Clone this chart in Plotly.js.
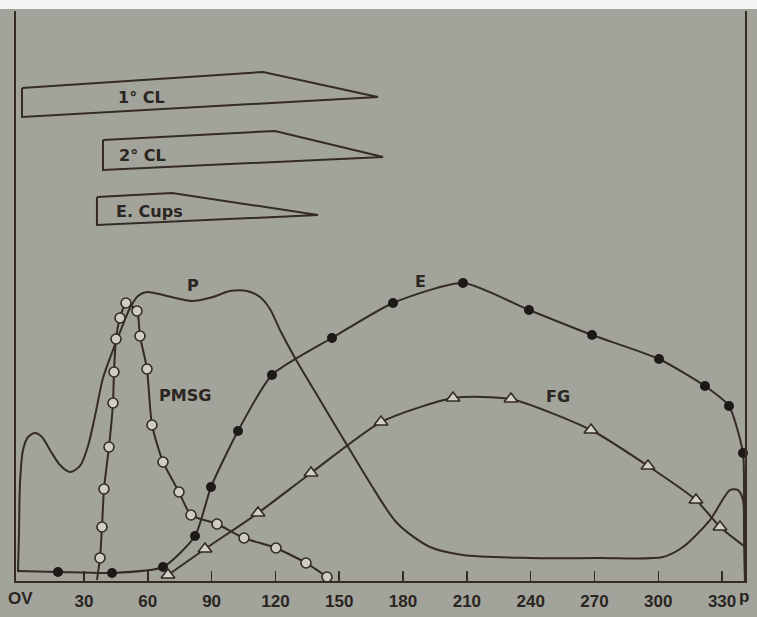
<!DOCTYPE html>
<html><head><meta charset="utf-8">
<script src="https://cdn.plot.ly/plotly-3.0.1.min.js"></script>
<style>html,body{margin:0;padding:0;background:#a2a39b;} #chart{width:757px;height:617px;}</style>
</head><body><div id="chart"></div>
<script>
// x: days after ovulation (OV) to parturition (p); y: relative level (arbitrary units)
const tickDays = [30, 60, 90, 120, 150, 180, 210, 240, 270, 300, 330];
const tickLabels = ['30', '60', '90', '120', '150', '180', '210', '240', '270', '300', '330'];
const startLabel = 'OV', startDay = 0;
const endLabel = 'p', endDay = 340.5;

// Progesterone (P) - plain curve
const pDays = [-1.03, -0.56, -0.09, 1.32, 3.67, 6.96, 10.25, 14.01, 18.71, 23.41, 28.11, 31.88, 35.17, 38.93, 43.63, 47.86, 51.62, 55.37, 59.61, 67.14, 75.13, 80.77, 90.64, 98.64, 106.63, 112.74, 117.44, 122.14, 129.2, 140.95, 155.05, 164.46, 177.15, 192.67, 208.18, 239.68, 272.59, 302.21, 311.61, 324.3, 333.71, 337.47, 339.82, 340.3, 340.77];
const pVals = [1.58, 8.42, 17.19, 22.98, 25.26, 25.96, 25.26, 22.98, 20.35, 19.12, 20.18, 23.68, 28.95, 35.61, 40.53, 44.56, 47.89, 50.0, 50.7, 50.18, 49.47, 49.12, 49.82, 50.88, 50.88, 49.82, 47.72, 44.04, 39.12, 31.75, 22.98, 17.19, 10.18, 5.96, 4.56, 4.04, 4.04, 4.21, 5.96, 10.7, 15.96, 15.96, 14.21, 8.95, 0];

// PMSG - open circles
const pmsgDays = [37.52, 38.46, 39.4, 41.75, 43.63, 44.1, 45.04, 46.92, 49.74, 54.91, 56.32, 59.61, 61.96, 67.14, 74.66, 80.3, 92.53, 105.22, 120.26, 134.37, 144.24];
const pmsgVals = [4.04, 9.47, 16.14, 23.51, 31.23, 36.67, 42.46, 46.14, 48.77, 47.37, 42.98, 37.19, 27.37, 20.88, 15.61, 11.58, 10.0, 7.54, 5.79, 3.16, 0.7];
const pmsgLeadDays = [36.11], pmsgLeadVals = [0.18];

// Estrogens (E) - filled circles
const eDays = [17.77, 43.16, 67.14, 82.18, 89.7, 102.4, 118.38, 146.59, 175.27, 208.18, 239.21, 268.83, 300.33, 321.95, 333.24, 339.82];
const eVals = [1.58, 1.4, 2.46, 7.89, 16.49, 26.32, 36.14, 42.63, 48.77, 52.28, 47.54, 43.16, 38.95, 34.21, 30.7, 22.46];
const eLeadDays = [-1.5], eLeadVals = [1.75];
const eTailDays = [340.3, 340.77], eTailVals = [14.21, 0];

// Fetal gonads (FG) - open triangles
const fgDays = [69.49, 86.88, 111.8, 136.72, 169.63, 203.48, 230.75, 268.36, 295.16, 317.72, 329.01];
const fgVals = [1.05, 5.61, 11.93, 18.95, 27.89, 32.11, 31.93, 26.49, 20.18, 14.21, 9.47];
const fgTailDays = [340.3], fgTailVals = [6.14];

// Corpora lutea and endometrial cups - tapering bars
const clNames = ['1\u00b0 CL', '2\u00b0 CL', 'E. Cups'];
const clStart = [0.85, 38.93, 36.1];
const clPlateauEnd = [114.15, 119.8, 71.4];
const clEnd = [168.2, 170.6, 140.0];
const clTopStart = [86.49, 77.37, 67.37];
const clTopPlateau = [89.3, 78.95, 68.07];
const clTip = [84.91, 74.39, 64.21];
const clBottom = [81.4, 72.11, 62.46];

// Curve name labels
const curveNames = ['P', 'PMSG', 'E', 'FG'];
const curveLabelDays = [81.2, 77.5, 188.4, 252.8];
const curveLabelVals = [51.9, 32.6, 52.6, 32.3];
const clLabelDays = [56.8, 57.3, 61.0];
const clLabelVals = [84.9, 74.7, 64.9];

const BG = '#a2a39b';
const INK = '#342b25';
const TXT = '#2a2521';

const traces = [];
// CL / cups outlines
for (let i = 0; i < clNames.length; i++) {
  traces.push({
    type: 'scatter', mode: 'lines', fill: 'toself', fillcolor: BG,
    x: [clStart[i], clPlateauEnd[i], clEnd[i], clStart[i], clStart[i]],
    y: [clTopStart[i], clTopPlateau[i], clTip[i], clBottom[i], clTopStart[i]],
    line: {color: INK, width: 2}, hoverinfo: 'skip'
  });
}
// P
traces.push({type: 'scatter', mode: 'lines', x: pDays, y: pVals,
  line: {color: INK, width: 2, shape: 'spline', smoothing: 0.8}, cliponaxis: false});
// PMSG
traces.push({type: 'scatter', mode: 'lines', x: pmsgLeadDays.concat(pmsgDays), y: pmsgLeadVals.concat(pmsgVals),
  line: {color: INK, width: 2, shape: 'spline', smoothing: 0.6}, cliponaxis: false});
// E
traces.push({type: 'scatter', mode: 'lines', x: eLeadDays.concat(eDays, eTailDays), y: eLeadVals.concat(eVals, eTailVals),
  line: {color: INK, width: 2, shape: 'spline', smoothing: 0.6}, cliponaxis: false});
// FG
traces.push({type: 'scatter', mode: 'lines', x: fgDays.concat(fgTailDays), y: fgVals.concat(fgTailVals),
  line: {color: INK, width: 2, shape: 'spline', smoothing: 0.6}, cliponaxis: false});
// markers
traces.push({type: 'scatter', mode: 'markers', x: pmsgDays, y: pmsgVals, cliponaxis: false,
  marker: {symbol: 'circle', size: 10, color: '#cdcdc5', line: {color: INK, width: 1.6}}});
traces.push({type: 'scatter', mode: 'markers', x: eDays, y: eVals, cliponaxis: false,
  marker: {symbol: 'circle', size: 10, color: '#1d1916', line: {width: 0}}});
traces.push({type: 'scatter', mode: 'markers', x: fgDays, y: fgVals, cliponaxis: false,
  marker: {symbol: 'triangle-up', size: 12, color: '#d0d0c8', line: {color: INK, width: 1.6}}});

const annFont = {family: 'DejaVu Sans, Liberation Sans, sans-serif', size: 16, color: TXT, weight: 'bold'};
const annotations = [];
for (let i = 0; i < curveNames.length; i++) {
  annotations.push({x: curveLabelDays[i], y: curveLabelVals[i], xref: 'x', yref: 'y', text: curveNames[i],
    showarrow: false, font: annFont, xanchor: 'center', yanchor: 'middle'});
}
for (let i = 0; i < clNames.length; i++) {
  annotations.push({x: clLabelDays[i], y: clLabelVals[i], xref: 'x', yref: 'y', text: clNames[i],
    showarrow: false, font: annFont, xanchor: 'center', yanchor: 'middle'});
}
const tickFont = {family: 'Liberation Sans Narrow, Arial Narrow, sans-serif', size: 17, color: TXT, weight: 'bold'};
annotations.push({x: startDay, y: -0.031, xref: 'x', yref: 'paper', text: startLabel, showarrow: false,
  font: tickFont, xanchor: 'center', yanchor: 'middle'});
annotations.push({x: endDay, y: -0.027, xref: 'x', yref: 'paper', text: endLabel, showarrow: false,
  font: tickFont, xanchor: 'center', yanchor: 'middle'});

const layout = {
  width: 757, height: 617,
  margin: {l: 16, r: 12, t: 11, b: 36, pad: 0},
  paper_bgcolor: BG, plot_bgcolor: BG,
  showlegend: false, hovermode: false,
  xaxis: {range: [-1.97, 340.77], tickvals: tickDays, ticktext: tickLabels,
    ticks: 'inside', ticklen: 10, tickwidth: 1.5, tickcolor: INK,
    showline: true, linecolor: INK, linewidth: 2, mirror: false,
    showgrid: false, zeroline: false, tickfont: tickFont, ticklabelstandoff: 4},
  yaxis: {range: [0, 100], showticklabels: false, ticks: '',
    showline: true, linecolor: INK, linewidth: 2, mirror: true,
    showgrid: false, zeroline: false},
  annotations: annotations,
  shapes: [{type: 'rect', xref: 'paper', yref: 'paper', x0: -0.1, x1: 1.1, y0: 1.0035, y1: 1.1,
    fillcolor: '#f4f4f2', line: {width: 0}, layer: 'above'}]
};
Plotly.newPlot('chart', traces, layout, {staticPlot: true, displayModeBar: false});
</script></body></html>
